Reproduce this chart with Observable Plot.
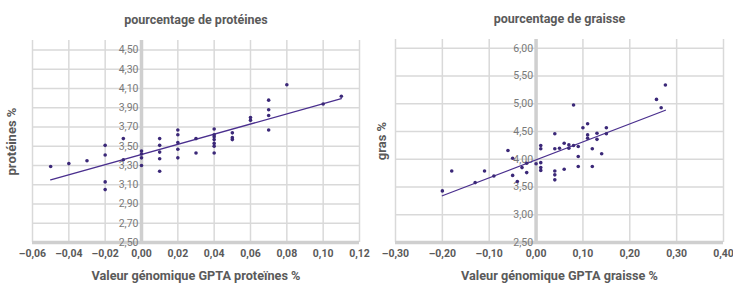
<!DOCTYPE html>
<html>
<head>
<meta charset="utf-8">
<script src="https://cdn.jsdelivr.net/npm/d3@7"></script>
<script src="https://cdn.jsdelivr.net/npm/@observablehq/plot@0.6"></script>
<style>
  html, body { margin: 0; padding: 0; background: #fff; }
  #wrap { display: flex; width: 733px; height: 286px; }
  svg { font-family: Roboto, "DejaVu Sans", sans-serif; overflow: visible; }
</style>
</head>
<body>
<div id="wrap"></div>
<script>
// ---- Protein panel data ----
const protGPTA = [-0.05, -0.04, -0.03, -0.02, -0.02, -0.02, -0.02, -0.01, -0.01,
  0, 0, 0, 0, 0.01, 0.01, 0.01, 0.01, 0.01, 0.02, 0.02, 0.02, 0.02, 0.02,
  0.03, 0.03, 0.04, 0.04, 0.04, 0.04, 0.04, 0.04, 0.04, 0.05, 0.05, 0.05,
  0.06, 0.06, 0.07, 0.07, 0.07, 0.07, 0.08, 0.10, 0.11];
const protPct = [3.29, 3.32, 3.35, 3.51, 3.41, 3.13, 3.05, 3.58, 3.36,
  3.45, 3.42, 3.38, 3.30, 3.58, 3.51, 3.44, 3.37, 3.24, 3.67, 3.62, 3.54, 3.47, 3.38,
  3.58, 3.43, 3.68, 3.62, 3.60, 3.57, 3.53, 3.50, 3.43, 3.64, 3.59, 3.57,
  3.80, 3.77, 3.98, 3.88, 3.82, 3.67, 4.14, 3.94, 4.02];
const protXTicks = [-0.06, -0.04, -0.02, 0, 0.02, 0.04, 0.06, 0.08, 0.10, 0.12];
const protYTicks = [2.5, 2.7, 2.9, 3.1, 3.3, 3.5, 3.7, 3.9, 4.1, 4.3, 4.5];

// ---- Fat panel data ----
const fatGPTA = [-0.20, -0.18, -0.13, -0.11, -0.09, -0.06, -0.05, -0.05, -0.04, -0.03,
  -0.02, -0.02, 0.00, 0.01, 0.01, 0.01, 0.01, 0.01, 0.04, 0.04, 0.04, 0.04, 0.04,
  0.05, 0.06, 0.06, 0.07, 0.07, 0.08, 0.08, 0.09, 0.09, 0.09, 0.10, 0.11, 0.11, 0.11,
  0.12, 0.12, 0.13, 0.13, 0.14, 0.15, 0.15, 0.257, 0.267, 0.276];
const fatPct = [3.43, 3.79, 3.58, 3.79, 3.70, 4.16, 4.02, 3.71, 3.60, 3.85,
  3.93, 3.76, 3.92, 4.25, 4.19, 3.94, 3.85, 3.80, 4.46, 4.19, 3.79, 3.72, 3.63,
  4.20, 4.29, 3.82, 4.26, 4.20, 4.25, 4.98, 4.23, 4.05, 3.87, 4.57, 4.64, 4.44, 4.38,
  4.19, 3.87, 4.47, 4.36, 4.10, 4.57, 4.46, 5.08, 4.93, 5.34];
const fatXTicks = [-0.30, -0.20, -0.10, 0, 0.10, 0.20, 0.30, 0.40];
const fatYTicks = [2.5, 3.0, 3.5, 4.0, 4.5, 5.0, 5.5, 6.0];

const fmt = d => (Math.abs(d) < 1e-9 ? 0 : d).toFixed(2).replace(".", ",").replace("-", "–");

const GRID = "#d9d9d9", AXIS = "#cfcfcf", DOT = "#3b2878", LINE = "#4a2f8e";
const TXT = "#5a5a5a", TICK = "#7a7a7a";

function panel({gx, gy, xTicks, yTicks, xDomain, yDomain, title, xLabel, yLabel,
                width, ml, mr, mt, mb, yLabelDx}) {
  const data = gx.map((x, i) => ({x, y: gy[i]}));
  return Plot.plot({
    width, height: 286,
    marginLeft: ml, marginRight: mr, marginTop: mt, marginBottom: mb,
    x: {domain: xDomain, axis: null},
    y: {domain: yDomain, axis: null},
    style: {fontFamily: "Roboto, 'DejaVu Sans', sans-serif", background: "transparent", overflow: "visible"},
    marks: [
      Plot.ruleX(xTicks, {stroke: GRID, strokeWidth: 1.5}),
      Plot.ruleY(yTicks, {stroke: GRID, strokeWidth: 1.5}),
      Plot.ruleX([0], {stroke: AXIS, strokeWidth: 3.5}),
      Plot.ruleY([yDomain[0]], {stroke: AXIS, strokeWidth: 3.5}),
      Plot.text(yTicks, {x: 0, y: d => d, text: fmt, textAnchor: "end", dx: -3,
        fill: TICK, fontSize: 10.5}),
      Plot.text(xTicks, {x: d => d, frameAnchor: "bottom", lineAnchor: "middle", dy: 11, text: fmt,
        fill: TXT, fontSize: 10.5, fontWeight: "bold"}),
      Plot.linearRegressionY(data, {x: "x", y: "y", ci: 0, stroke: LINE, strokeWidth: 1.3}),
      Plot.dot(data, {x: "x", y: "y", r: 1.8, fill: DOT, stroke: null}),
      Plot.text([title], {frameAnchor: "top", lineAnchor: "middle", dy: -21, fill: TXT,
        fontSize: 12.5, fontWeight: "bold"}),
      Plot.text([xLabel], {frameAnchor: "bottom", lineAnchor: "middle", dy: 33, fill: TXT,
        fontSize: 12.7, fontWeight: "bold"}),
      Plot.text([yLabel], {frameAnchor: "left", textAnchor: "middle", lineAnchor: "middle",
        rotate: -90, dx: yLabelDx, fill: TXT, fontSize: 13, fontWeight: "bold"})
    ]
  });
}

const wrap = document.getElementById("wrap");
wrap.append(panel({
  gx: protGPTA, gy: protPct, xTicks: protXTicks, yTicks: protYTicks,
  xDomain: [-0.06, 0.12], yDomain: [2.5, 4.6],
  title: "pourcentage de protéines", xLabel: "Valeur génomique GPTA proteïnes %",
  yLabel: "protéines %", width: 366, ml: 32, mr: 7, mt: 40, mb: 44, yLabelDx: -21
}));
wrap.append(panel({
  gx: fatGPTA, gy: fatPct, xTicks: fatXTicks, yTicks: fatYTicks,
  xDomain: [-0.30, 0.40], yDomain: [2.5, 6.16],
  title: "pourcentage de graisse", xLabel: "Valeur génomique GPTA graisse %",
  yLabel: "gras %", width: 367, ml: 29, mr: 10, mt: 39, mb: 44, yLabelDx: -14
}));
</script>
</body>
</html>
